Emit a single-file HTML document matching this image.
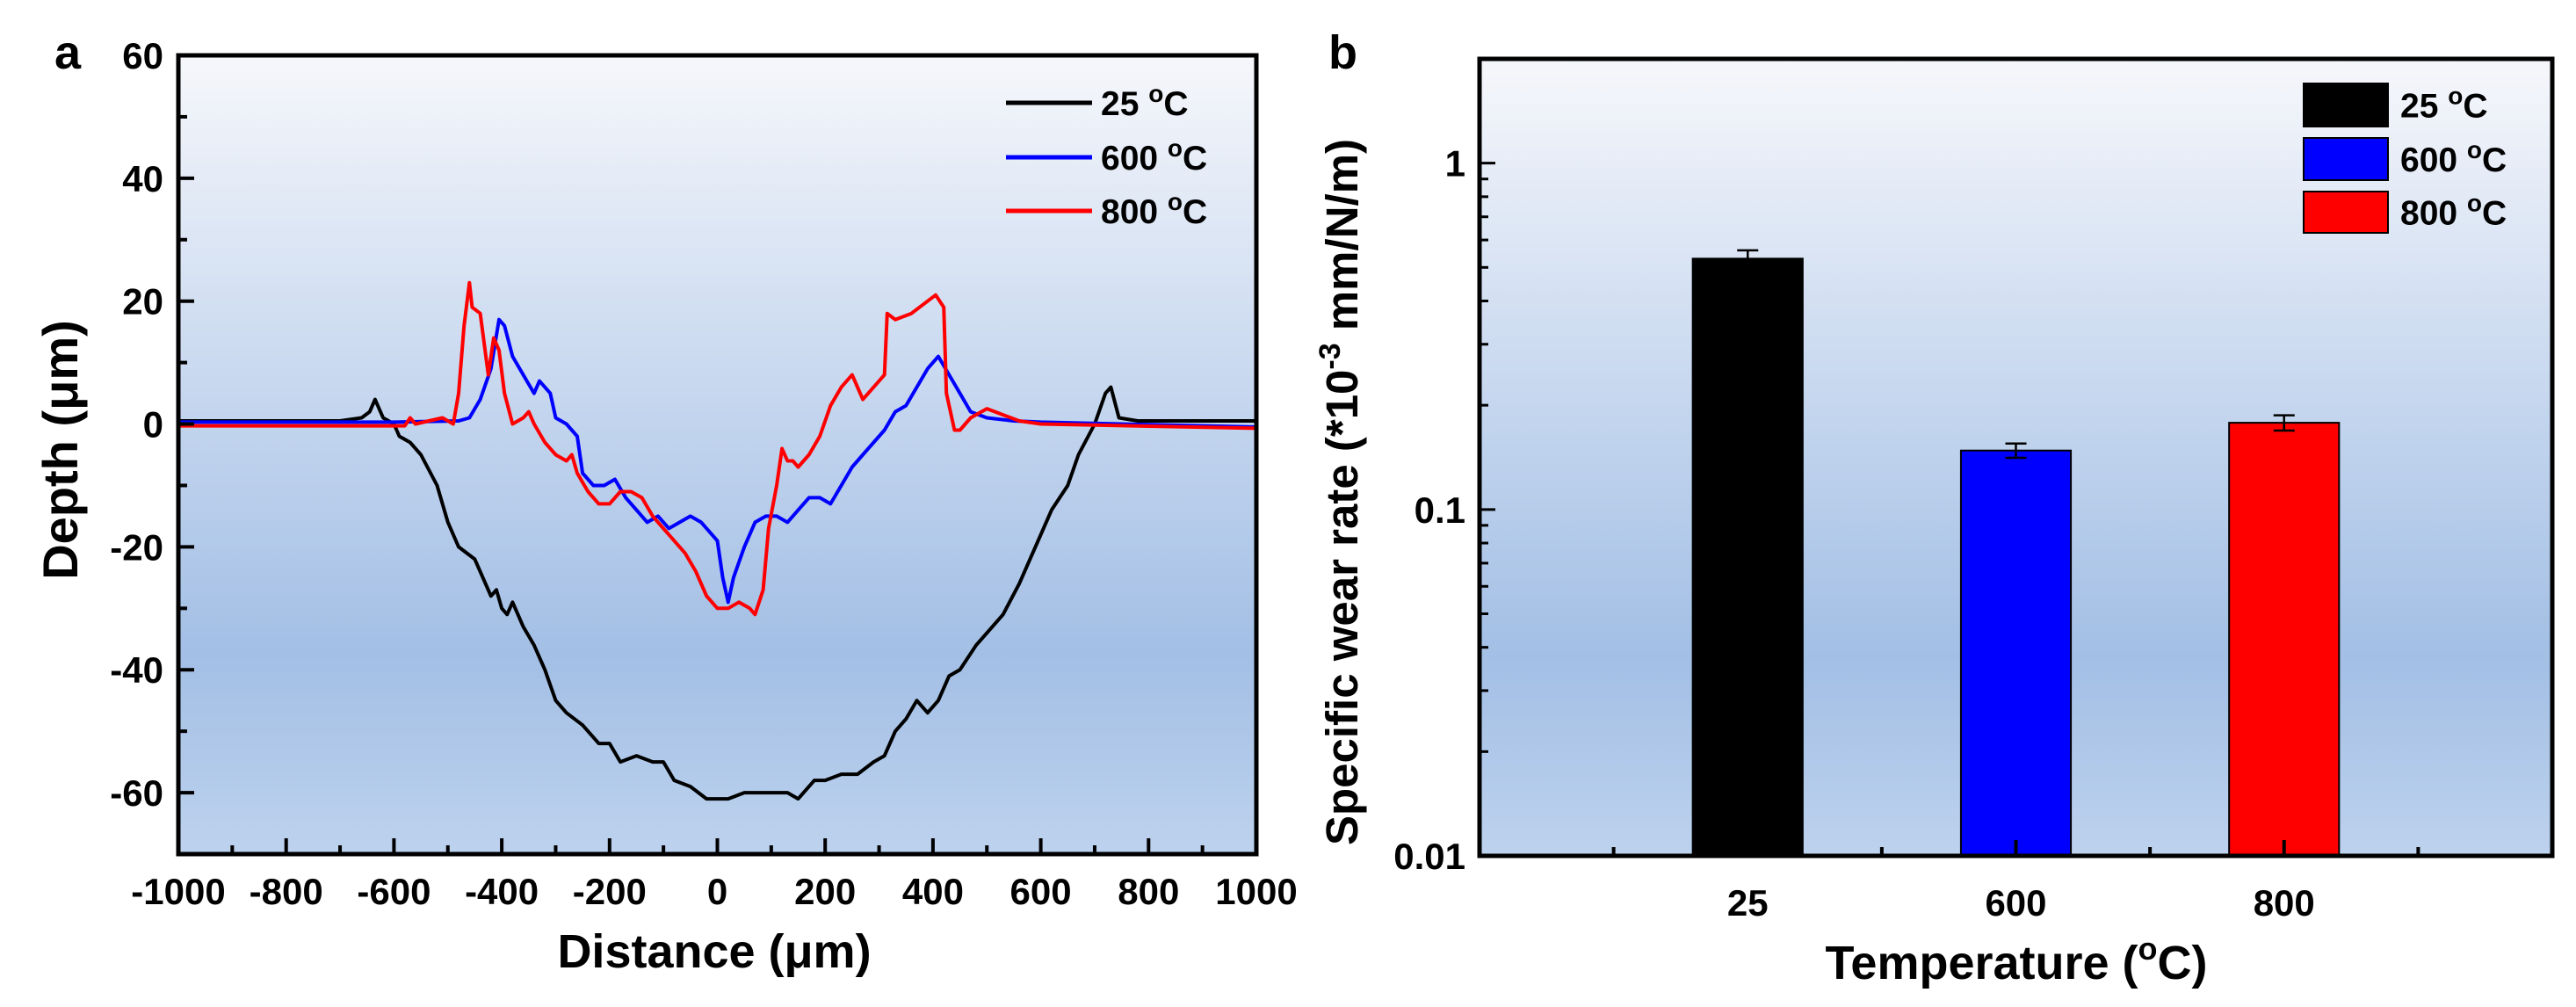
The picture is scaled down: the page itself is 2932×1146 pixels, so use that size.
<!DOCTYPE html>
<html><head><meta charset="utf-8">
<style>
html,body{margin:0;padding:0;background:#fff;}
svg{display:block;font-family:"Liberation Sans",Arial,sans-serif;font-weight:bold;}
</style></head>
<body>
<svg id="fig" width="2932" height="1146" viewBox="0 0 2932 1146" xmlns="http://www.w3.org/2000/svg">
<defs>
<linearGradient id="bg" x1="0" y1="0" x2="0" y2="1">
<stop offset="0" stop-color="#f6f7fb"/>
<stop offset="0.45" stop-color="#c3d5ee"/>
<stop offset="0.75" stop-color="#a3bfe5"/>
<stop offset="1" stop-color="#bdd2ee"/>
</linearGradient>
</defs>
<g id="pa"></g>
<g id="pb"></g>
</svg>
<script>
// ---------- Panel a data ----------
const xBlack = [-1000,-700,-660,-645,-635,-620,-600,-590,-570,-550,-520,-500,-480,-450,-420,-410,-400,-390,-380,-360,-340,-320,-300,-280,-250,-220,-200,-180,-150,-120,-100,-80,-50,-20,0,20,50,80,100,130,150,180,200,230,260,290,310,330,350,370,390,410,430,450,480,500,530,560,590,620,650,670,700,720,730,745,780,1000];
const yBlack = [0.5,0.5,1,2,4,1,0,-2,-3,-5,-10,-16,-20,-22,-28,-27,-30,-31,-29,-33,-36,-40,-45,-47,-49,-52,-52,-55,-54,-55,-55,-58,-59,-61,-61,-61,-60,-60,-60,-60,-61,-58,-58,-57,-57,-55,-54,-50,-48,-45,-47,-45,-41,-40,-36,-34,-31,-26,-20,-14,-10,-5,0,5,6,1,0.5,0.5];
const xBlue = [-1000,-600,-480,-460,-440,-420,-405,-395,-380,-360,-340,-330,-310,-300,-280,-260,-250,-230,-210,-190,-170,-150,-130,-110,-90,-70,-50,-30,-10,0,10,20,30,50,70,90,110,130,150,170,190,210,230,250,270,290,310,330,350,370,390,410,430,450,470,500,550,600,1000];
const yBlue = [0.3,0.3,0.5,1,4,9,17,16,11,8,5,7,5,1,0,-2,-8,-10,-10,-9,-12,-14,-16,-15,-17,-16,-15,-16,-18,-19,-25,-29,-25,-20,-16,-15,-15,-16,-14,-12,-12,-13,-10,-7,-5,-3,-1,2,3,6,9,11,8,5,2,1,0.5,0.3,-0.5];
const xRed = [-1000,-580,-570,-560,-510,-490,-480,-470,-460,-455,-440,-425,-415,-405,-395,-380,-360,-350,-340,-320,-300,-280,-270,-260,-240,-220,-200,-180,-160,-140,-120,-100,-80,-60,-40,-20,0,20,40,60,70,85,95,110,120,130,140,150,170,190,210,230,250,270,290,310,315,330,360,390,405,420,425,440,450,470,500,530,560,600,1000];
const yRed = [-0.3,-0.3,1,0,1,0,5,16,23,19,18,8,14,12,5,0,1,2,0,-3,-5,-6,-5,-8,-11,-13,-13,-11,-11,-12,-15,-17,-19,-21,-24,-28,-30,-30,-29,-30,-31,-27,-17,-10,-4,-6,-6,-7,-5,-2,3,6,8,4,6,8,18,17,18,20,21,19,5,-1,-1,1,2.5,1.5,0.5,0,-0.7];
const xTicksA = [-1000,-800,-600,-400,-200,0,200,400,600,800,1000];
const yTicksA = [60,40,20,0,-20,-40,-60];
// ---------- Panel b data ----------
const cats = ["25","600","800"];
const rates = [0.53,0.148,0.178];
const errs = [0.03,0.007,0.009];
const barColors = ["#000000","#0000ff","#ff0000"];
const yTicksB = [0.01,0.1,1];
const yTickLabelsB = ["0.01","0.1","1"];

const NS="http://www.w3.org/2000/svg";
function mk(parent,tag,attrs,text){const e=document.createElementNS(NS,tag);for(const k in attrs)e.setAttribute(k,attrs[k]);if(text!==undefined)e.textContent=text;parent.appendChild(e);return e;}

// ---------- Panel a ----------
const pa=document.getElementById('pa');
const AL=203,AR=1430,AT=63,AB=972;
const xa=v=>AL+(v+1000)/2000*(AR-AL);
const ya=v=>AT+(60-v)/130*(AB-AT);
let r=mk(pa,'rect',{x:AL,y:AT,width:AR-AL,height:AB-AT,fill:'url(#bg)'});


const seriesA=[[xBlack,yBlack,'#000','line-25c'],[xBlue,yBlue,'#0000ff','line-600c'],[xRed,yRed,'#ff0000','line-800c']];
seriesA.forEach(s=>{
  const d=s[0].map((x,i)=>(i?'L':'M')+xa(x).toFixed(1)+','+ya(s[1][i]).toFixed(1)).join('');
  const p=mk(pa,'path',{d:d,fill:'none',stroke:s[2],'stroke-width':4,'stroke-linejoin':'round'});
  
  
});
for(let v=-1000;v<=1000;v+=100){const maj=v%200===0;mk(pa,'line',{x1:xa(v),x2:xa(v),y1:AB,y2:AB-(maj?18:10),stroke:'#000','stroke-width':4});}
for(let v=-70;v<=60;v+=10){const maj=v%20===0;mk(pa,'line',{x1:AL,x2:AL+(maj?18:10),y1:ya(v),y2:ya(v),stroke:'#000','stroke-width':4});}
xTicksA.forEach(v=>{const t=mk(pa,'text',{x:xa(v),y:1029,'font-size':42,'text-anchor':'middle'},String(v));

});
yTicksA.forEach(v=>{const t=mk(pa,'text',{x:186,y:ya(v)+15,'font-size':42,'text-anchor':'end'},String(v));

});
r=mk(pa,'rect',{x:AL,y:AT,width:AR-AL,height:AB-AT,fill:'none',stroke:'#000','stroke-width':5});


let t=mk(pa,'text',{x:813,y:1101,'font-size':54,'text-anchor':'middle'},'Distance (μm)');


t=mk(pa,'text',{x:88,y:512,'font-size':56,'text-anchor':'middle',transform:'rotate(-90 88 512)'},'Depth (μm)');


t=mk(pa,'text',{x:62,y:78,'font-size':54},'a');


const legA=[['25','#000',117],['600','#0000ff',179],['800','#ff0000',240]];
legA.forEach(l=>{
  const g=mk(pa,'g',{});
  
  
  mk(g,'line',{x1:1145,x2:1243,y1:l[2],y2:l[2],stroke:l[1],'stroke-width':5});
  const tx=mk(g,'text',{x:1253,y:l[2]+14,'font-size':39},l[0]+' ');
  mk(tx,'tspan',{'font-size':28,dy:-15},'o');
  mk(tx,'tspan',{dy:15},'C');
});

// ---------- Panel b ----------
const pb=document.getElementById('pb');
const BL=1684,BR=2905,BT=67,BB=974;
const LMIN=-2,LMAX=Math.log10(2);
const yb=v=>BT+(LMAX-Math.log10(v))/(LMAX-LMIN)*(BB-BT);
const xb=i=>BL+(i+1)/4*(BR-BL);
r=mk(pb,'rect',{x:BL,y:BT,width:BR-BL,height:BB-BT,fill:'url(#bg)'});


const bw=0.41*(BR-BL)/4;
cats.forEach((c,i)=>{
  const b=mk(pb,'rect',{x:xb(i)-bw/2,y:yb(rates[i]),width:bw,height:BB-yb(rates[i]),fill:barColors[i],stroke:'#000','stroke-width':2});
  
  
  const g=mk(pb,'g',{stroke:'#000','stroke-width':2.5});
  
  
  const y1=yb(rates[i]+errs[i]),y2=yb(rates[i]-errs[i]);
  mk(g,'line',{x1:xb(i),x2:xb(i),y1:y1,y2:y2});
  mk(g,'line',{x1:xb(i)-12,x2:xb(i)+12,y1:y1,y2:y1});
  mk(g,'line',{x1:xb(i)-12,x2:xb(i)+12,y1:y2,y2:y2});
  const tl=mk(pb,'text',{x:xb(i),y:1042,'font-size':42,'text-anchor':'middle'},c);
  
  
});
for(let h=0.5;h<4;h+=0.5){const maj=Number.isInteger(h);const xx=BL+h/4*(BR-BL);mk(pb,'line',{x1:xx,x2:xx,y1:BB,y2:BB-(maj?18:10),stroke:'#000','stroke-width':4});}
[0.01,0.1,1].forEach(d=>{for(let m=1;m<10;m++){const v=d*m;if(v>2)break;mk(pb,'line',{x1:BL,x2:BL+(m===1?18:10),y1:yb(v),y2:yb(v),stroke:'#000','stroke-width':3});}});
yTicksB.forEach((v,i)=>{const tl=mk(pb,'text',{x:1668,y:yb(v)+15,'font-size':42,'text-anchor':'end'},yTickLabelsB[i]);

});
r=mk(pb,'rect',{x:BL,y:BT,width:BR-BL,height:BB-BT,fill:'none',stroke:'#000','stroke-width':5});


t=mk(pb,'text',{x:2295,y:1114,'font-size':54,'text-anchor':'middle'},'Temperature (');
mk(t,'tspan',{'font-size':36,dy:-22},'o');
mk(t,'tspan',{dy:22},'C)');


t=mk(pb,'text',{x:1545,y:560,'font-size':51,'text-anchor':'middle',transform:'rotate(-90 1545 560)'},'Specific wear rate (*10');
mk(t,'tspan',{'font-size':34,dy:-20},'-3');
mk(t,'tspan',{dy:20},' mm/N/m)');


t=mk(pb,'text',{x:1512,y:78,'font-size':54},'b');


const legB=[[95,144],[157,205],[218,265]];
cats.forEach((c,i)=>{
  const g=mk(pb,'g',{});
  
  
  mk(g,'rect',{x:2622,y:legB[i][0],width:96,height:legB[i][1]-legB[i][0],fill:barColors[i],stroke:'#000','stroke-width':2});
  const tx=mk(g,'text',{x:2732,y:(legB[i][0]+legB[i][1])/2+14,'font-size':39},c+' ');
  mk(tx,'tspan',{'font-size':28,dy:-15},'o');
  mk(tx,'tspan',{dy:15},'C');
});
</script>
</body></html>
